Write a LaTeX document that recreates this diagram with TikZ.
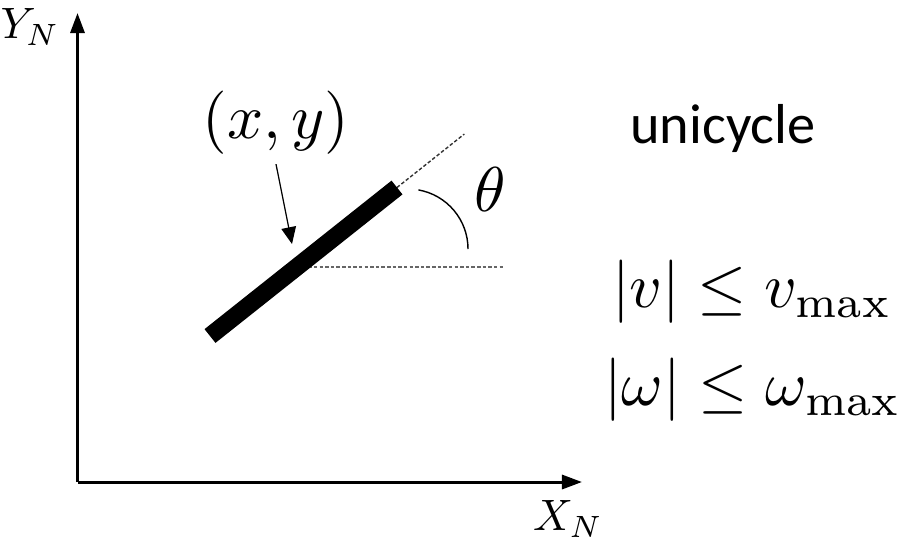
\documentclass[tikz,border=0pt]{standalone}
\usepackage{amsmath}
\usepackage{graphicx}
\usepackage{fontspec}
\newfontfamily\labelfont{Carlito}
\usetikzlibrary{arrows.meta, calc}
\newcommand{\bigsym}[1]{\scalebox{1.8}{#1}}
\newcommand{\axsym}[1]{\scalebox{1.25}{#1}}

\begin{document}
\begin{tikzpicture}[x=0.01cm, y=0.01cm,
    axis/.style={line width=0.85pt, -{Triangle[length=5.7pt, width=4pt]}},
    pointer/.style={line width=0.35pt, -{Triangle[length=4.8pt, width=4.2pt]}},
    guide/.style={line width=0.4pt, dash pattern=on 1pt off 0.6pt},
    bigmath/.style={inner sep=1pt},
    axlabel/.style={inner sep=0pt}]
  \useasboundingbox (0,0) rectangle (910,541);

  % Frame axes
  \coordinate (origin) at (77.5,59);
  \coordinate (ytip) at (77.5,528);
  \coordinate (xtip) at (582,59);
  \draw[axis] (origin) -- (ytip);
  \draw[axis] (origin) -- (xtip);
  \node[axlabel] (ylab) at (30,514) {\axsym{$Y_N$}};
  \node[axlabel] (xlab) at (568,22) {\axsym{$X_N$}};

  % Heading guides (drawn below the body)
  \coordinate (rear) at (210,205);
  \coordinate (front) at (397,353.5);
  \coordinate (mid) at (297,274);
  \draw[guide, black!80] (front) -- ($(rear)!1.36!(front)$);
  \draw[guide, black!60] (mid) -- (505,274);

  % Unicycle body
  \draw[line width=5pt] (rear) -- (front);

  % Heading angle
  \coordinate (arcctr) at (408,292);
  \draw[line width=0.4pt] (arcctr) ++(80:60) arc[start angle=80, end angle=0, radius=60];
  \node[bigmath] (theta) at (490,351) {\bigsym{$\theta$}};

  % Position label
  \node[bigmath] (pos) at (276,418) {\bigsym{$(x,y)$}};
  \coordinate (postip) at (292,297);
  \draw[pointer] ([yshift=-1.5pt]pos.south) -- (postip);

  % Model and bounds
  \node[font=\labelfont\fontsize{16}{19}\selectfont] (model) at (723,413) {unicycle};
  \node[bigmath] (vbound) at (752,249) {\bigsym{$|v|\le v_{\max}$}};
  \node[bigmath] (wbound) at (753,151) {\bigsym{$|\omega|\le\omega_{\max}$}};
\end{tikzpicture}
\end{document}
